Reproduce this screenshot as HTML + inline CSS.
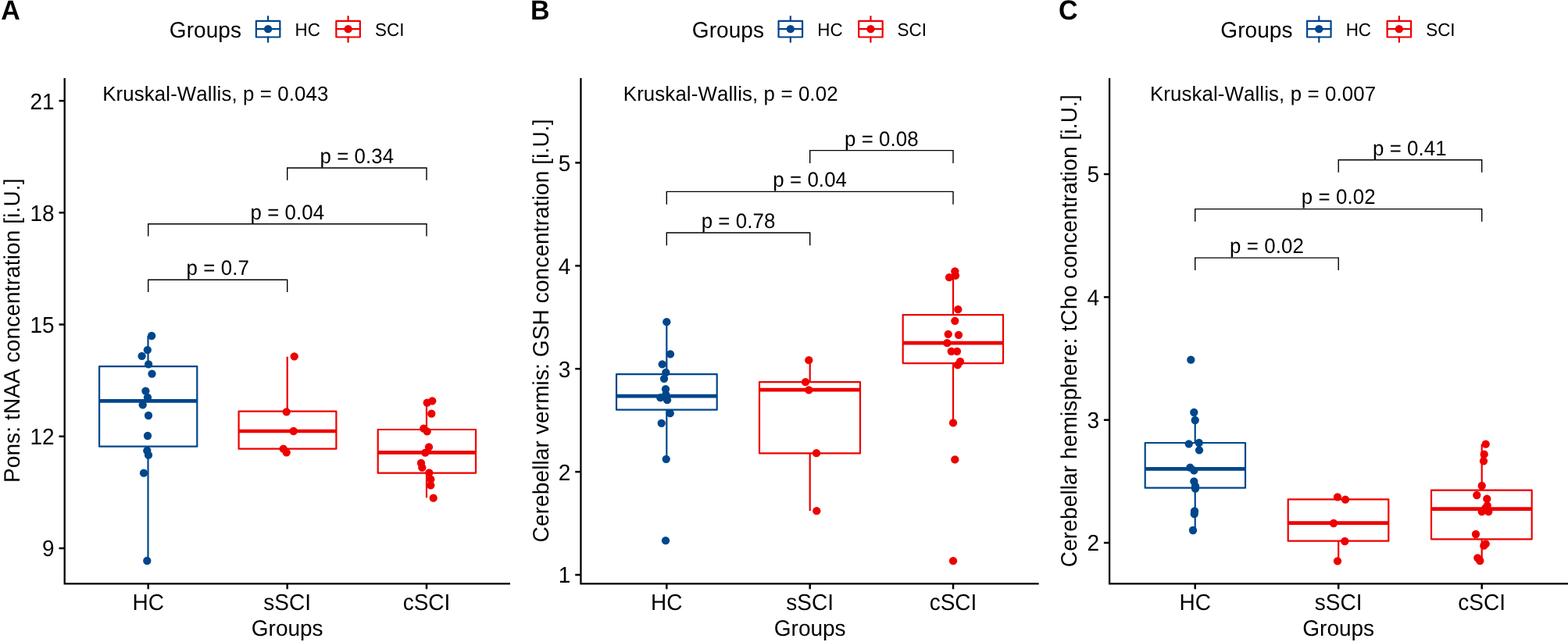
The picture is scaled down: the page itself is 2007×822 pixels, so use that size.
<!DOCTYPE html>
<html lang="en"><head><meta charset="utf-8"><title>Figure: group comparisons</title>
<style>
html,body{margin:0;padding:0;background:#fff;}
body{width:2007px;height:822px;}
svg{display:block;}
text{font-family:"Liberation Sans",sans-serif;fill:#000;font-kerning:none;font-variant-ligatures:none;text-rendering:geometricPrecision;}
.pl{font-weight:bold;font-size:34px;}
.lt{font-size:28px;letter-spacing:0.08px;}
.ll{font-size:22.4px;}
.tk{font-size:28px;}
.at{font-size:28px;}
.st{font-size:25.8px;letter-spacing:0.1px;}
.kw{letter-spacing:0.13px;}
.yt{letter-spacing:0.12px;}
.ax{stroke:#000;stroke-width:2.3;fill:none;stroke-linecap:butt;}
.tk2{stroke:#000;stroke-width:2.5;fill:none;}
.br{stroke:#000;stroke-width:1.4;fill:none;}
.bx{stroke-width:2.2;fill:none;stroke-linejoin:round;}
.md{stroke-width:4.7;fill:none;}
</style></head><body>
<svg width="2007" height="822" viewBox="0 0 2007 822">
<rect x="0" y="0" width="2007" height="822" fill="#ffffff"/>
<g>
<text class="pl" transform="translate(1.2 25) scale(1 1.04)">A</text>
<text class="lt" transform="translate(216.8 47.6) scale(1 1.02)">Groups</text>
<g stroke="#00468B" fill="none" stroke-width="2.2" stroke-linecap="round" stroke-linejoin="round"><line x1="343.1" y1="21" x2="343.1" y2="26.9"/><line x1="343.1" y1="47.5" x2="343.1" y2="53.8"/><rect x="327.85" y="26.9" width="30.5" height="20.6"/><line x1="327.85" y1="37.2" x2="358.35" y2="37.2"/></g><circle cx="343.1" cy="37.2" r="5.15" fill="#00468B"/>
<text class="ll" transform="translate(377.6 45.8) scale(1 1.04)">HC</text>
<g stroke="#ED0000" fill="none" stroke-width="2.2" stroke-linecap="round" stroke-linejoin="round"><line x1="445.6" y1="21" x2="445.6" y2="26.9"/><line x1="445.6" y1="47.5" x2="445.6" y2="53.8"/><rect x="430.35" y="26.9" width="30.5" height="20.6"/><line x1="430.35" y1="37.2" x2="460.85" y2="37.2"/></g><circle cx="445.6" cy="37.2" r="5.15" fill="#ED0000"/>
<text class="ll" transform="translate(480.1 45.8) scale(1 1.04)">SCI</text>
<g stroke="#00468B">
<line class="bx" x1="189.5" y1="430" x2="189.5" y2="469.2"/>
<line class="bx" x1="189.5" y1="571.7" x2="189.5" y2="718"/>
<rect class="bx" x="127.1" y="469.2" width="125.2" height="102.5"/>
<line class="md" x1="127.1" y1="513.3" x2="252.3" y2="513.3"/>
</g>
<g fill="#00468B">
<circle cx="194.1" cy="430" r="5.15"/>
<circle cx="188.8" cy="448.1" r="5.15"/>
<circle cx="181.6" cy="455.9" r="5.15"/>
<circle cx="190.1" cy="466.4" r="5.15"/>
<circle cx="194.5" cy="478.6" r="5.15"/>
<circle cx="186.4" cy="500.6" r="5.15"/>
<circle cx="189" cy="509" r="5.15"/>
<circle cx="182.7" cy="518.3" r="5.15"/>
<circle cx="190" cy="532" r="5.15"/>
<circle cx="189" cy="558" r="5.15"/>
<circle cx="188.3" cy="577" r="5.15"/>
<circle cx="190" cy="582.7" r="5.15"/>
<circle cx="184" cy="605.7" r="5.15"/>
<circle cx="188.3" cy="718" r="5.15"/>
</g>
<g stroke="#ED0000">
<line class="bx" x1="367.7" y1="456.7" x2="367.7" y2="526.7"/>
<line class="bx" x1="367.7" y1="574.7" x2="367.7" y2="574.7"/>
<rect class="bx" x="305.6" y="526.7" width="124.8" height="48"/>
<line class="md" x1="305.6" y1="552" x2="430.4" y2="552"/>
</g>
<g fill="#ED0000">
<circle cx="376.7" cy="456.3" r="5.15"/>
<circle cx="366.7" cy="527.3" r="5.15"/>
<circle cx="375.7" cy="552" r="5.15"/>
<circle cx="362.7" cy="574.7" r="5.15"/>
<circle cx="366.7" cy="579.3" r="5.15"/>
</g>
<g stroke="#ED0000">
<line class="bx" x1="546" y1="515" x2="546" y2="550"/>
<line class="bx" x1="546" y1="605.7" x2="546" y2="637.3"/>
<rect class="bx" x="483.7" y="550" width="125.3" height="55.7"/>
<line class="md" x1="483.7" y1="579.3" x2="609" y2="579.3"/>
</g>
<g fill="#ED0000">
<circle cx="553.3" cy="513.3" r="5.15"/>
<circle cx="546.7" cy="515.7" r="5.15"/>
<circle cx="552.3" cy="529.7" r="5.15"/>
<circle cx="542.3" cy="548.7" r="5.15"/>
<circle cx="546.7" cy="552.3" r="5.15"/>
<circle cx="549" cy="572.3" r="5.15"/>
<circle cx="544.3" cy="579.7" r="5.15"/>
<circle cx="539" cy="593" r="5.15"/>
<circle cx="540.3" cy="598.7" r="5.15"/>
<circle cx="549.3" cy="605.3" r="5.15"/>
<circle cx="551.3" cy="613.7" r="5.15"/>
<circle cx="551.3" cy="621.3" r="5.15"/>
<circle cx="554.7" cy="637.7" r="5.15"/>
</g>
<path class="br" d="M367.7 230.76 V214.96 H546 V230.76"/>
<text class="st" text-anchor="middle" transform="translate(456.85 209.15) scale(1 1.04)">p = 0.34</text>
<path class="br" d="M189.7 302.6 V286.8 H546 V302.6"/>
<text class="st" text-anchor="middle" transform="translate(367.85 280.88) scale(1 1.04)">p = 0.04</text>
<path class="br" d="M189.7 374.05 V358.25 H367.7 V374.05"/>
<text class="st" text-anchor="middle" transform="translate(278.7 352.05) scale(1 1.04)">p = 0.7</text>
<text class="st kw" transform="translate(131.2 129.3) scale(1 1.02)">Kruskal-Wallis, p = 0.043</text>
<path class="ax" d="M82.7 100 V747.3 H653"/>
<line class="tk2" x1="75.5" y1="129.1" x2="82.7" y2="129.1"/>
<text class="tk" text-anchor="end" transform="translate(69.7 139.5) scale(1 1.04)">21</text>
<line class="tk2" x1="75.5" y1="272.3" x2="82.7" y2="272.3"/>
<text class="tk" text-anchor="end" transform="translate(69.7 282.7) scale(1 1.04)">18</text>
<line class="tk2" x1="75.5" y1="415.5" x2="82.7" y2="415.5"/>
<text class="tk" text-anchor="end" transform="translate(69.7 425.9) scale(1 1.04)">15</text>
<line class="tk2" x1="75.5" y1="558.75" x2="82.7" y2="558.75"/>
<text class="tk" text-anchor="end" transform="translate(69.7 569.15) scale(1 1.04)">12</text>
<line class="tk2" x1="75.5" y1="702" x2="82.7" y2="702"/>
<text class="tk" text-anchor="end" transform="translate(69.7 712.4) scale(1 1.04)">9</text>
<line class="tk2" x1="189.7" y1="747.3" x2="189.7" y2="754.3"/>
<text class="tk" text-anchor="middle" transform="translate(189.7 781) scale(1 1.04)">HC</text>
<line class="tk2" x1="367.7" y1="747.3" x2="367.7" y2="754.3"/>
<text class="tk" text-anchor="middle" transform="translate(367.7 781) scale(1 1.04)">sSCI</text>
<line class="tk2" x1="546" y1="747.3" x2="546" y2="754.3"/>
<text class="tk" text-anchor="middle" transform="translate(546 781) scale(1 1.04)">cSCI</text>
<text class="at" text-anchor="middle" transform="translate(367.7 813.9) scale(1 1.02)">Groups</text>
<text class="at yt" text-anchor="middle" transform="translate(25.4 423.25) rotate(-90) scale(1 1.02)">Pons: tNAA concentration [i.U.]</text>
</g>
<g>
<text class="pl" transform="translate(679 25) scale(1 1.04)">B</text>
<text class="lt" transform="translate(885.8 47.6) scale(1 1.02)">Groups</text>
<g stroke="#00468B" fill="none" stroke-width="2.2" stroke-linecap="round" stroke-linejoin="round"><line x1="1011.8" y1="21" x2="1011.8" y2="26.9"/><line x1="1011.8" y1="47.5" x2="1011.8" y2="53.8"/><rect x="996.55" y="26.9" width="30.5" height="20.6"/><line x1="996.55" y1="37.2" x2="1027.05" y2="37.2"/></g><circle cx="1011.8" cy="37.2" r="5.15" fill="#00468B"/>
<text class="ll" transform="translate(1046.3 45.8) scale(1 1.04)">HC</text>
<g stroke="#ED0000" fill="none" stroke-width="2.2" stroke-linecap="round" stroke-linejoin="round"><line x1="1114.45" y1="21" x2="1114.45" y2="26.9"/><line x1="1114.45" y1="47.5" x2="1114.45" y2="53.8"/><rect x="1099.2" y="26.9" width="30.5" height="20.6"/><line x1="1099.2" y1="37.2" x2="1129.7" y2="37.2"/></g><circle cx="1114.45" cy="37.2" r="5.15" fill="#ED0000"/>
<text class="ll" transform="translate(1148.6 45.8) scale(1 1.04)">SCI</text>
<g stroke="#00468B">
<line class="bx" x1="853.3" y1="412.4" x2="853.3" y2="479.1"/>
<line class="bx" x1="853.3" y1="524.7" x2="853.3" y2="588.1"/>
<rect class="bx" x="789" y="479.1" width="128.7" height="45.6"/>
<line class="md" x1="789" y1="507.1" x2="917.7" y2="507.1"/>
</g>
<g fill="#00468B">
<circle cx="853.3" cy="412.15" r="5.15"/>
<circle cx="858" cy="453.45" r="5.15"/>
<circle cx="847.7" cy="466.45" r="5.15"/>
<circle cx="852.3" cy="476.85" r="5.15"/>
<circle cx="850" cy="484.85" r="5.15"/>
<circle cx="852" cy="498.15" r="5.15"/>
<circle cx="852.3" cy="505.15" r="5.15"/>
<circle cx="845.3" cy="509.15" r="5.15"/>
<circle cx="854" cy="512.15" r="5.15"/>
<circle cx="857.7" cy="529.15" r="5.15"/>
<circle cx="846.7" cy="541.85" r="5.15"/>
<circle cx="852.7" cy="587.85" r="5.15"/>
<circle cx="852" cy="692.15" r="5.15"/>
</g>
<g stroke="#ED0000">
<line class="bx" x1="1036.7" y1="461.7" x2="1036.7" y2="489.1"/>
<line class="bx" x1="1036.7" y1="580.4" x2="1036.7" y2="654.1"/>
<rect class="bx" x="972" y="489.1" width="129" height="91.3"/>
<line class="md" x1="972" y1="499.1" x2="1101" y2="499.1"/>
</g>
<g fill="#ED0000">
<circle cx="1035.3" cy="461.15" r="5.15"/>
<circle cx="1031" cy="489.15" r="5.15"/>
<circle cx="1035.3" cy="499.45" r="5.15"/>
<circle cx="1045" cy="580.15" r="5.15"/>
<circle cx="1045.3" cy="654.15" r="5.15"/>
</g>
<g stroke="#ED0000">
<line class="bx" x1="1220" y1="347.7" x2="1220" y2="403.1"/>
<line class="bx" x1="1220" y1="465.1" x2="1220" y2="542.1"/>
<rect class="bx" x="1155.7" y="403.1" width="128.3" height="62"/>
<line class="md" x1="1155.7" y1="439.1" x2="1284" y2="439.1"/>
</g>
<g fill="#ED0000">
<circle cx="1222.3" cy="347.45" r="5.15"/>
<circle cx="1223" cy="352.85" r="5.15"/>
<circle cx="1215" cy="355.15" r="5.15"/>
<circle cx="1226.3" cy="396.15" r="5.15"/>
<circle cx="1222.3" cy="410.85" r="5.15"/>
<circle cx="1213.7" cy="427.85" r="5.15"/>
<circle cx="1227" cy="428.85" r="5.15"/>
<circle cx="1212.3" cy="439.15" r="5.15"/>
<circle cx="1217.7" cy="449.85" r="5.15"/>
<circle cx="1225" cy="449.85" r="5.15"/>
<circle cx="1229" cy="462.85" r="5.15"/>
<circle cx="1225.7" cy="467.45" r="5.15"/>
<circle cx="1220" cy="541.45" r="5.15"/>
<circle cx="1222.3" cy="588.45" r="5.15"/>
<circle cx="1220" cy="718.15" r="5.15"/>
</g>
<path class="br" d="M1036.7 209.03 V192.63 H1220 V209.03"/>
<text class="st" text-anchor="middle" transform="translate(1128.35 186.5) scale(1 1.04)">p = 0.08</text>
<path class="br" d="M853.3 261.81 V245.41 H1220 V261.81"/>
<text class="st" text-anchor="middle" transform="translate(1036.65 239.33) scale(1 1.04)">p = 0.04</text>
<path class="br" d="M853.3 314.37 V297.97 H1036.7 V314.37"/>
<text class="st" text-anchor="middle" transform="translate(945 292.05) scale(1 1.04)">p = 0.78</text>
<text class="st kw" transform="translate(797.8 129.3) scale(1 1.02)">Kruskal-Wallis, p = 0.02</text>
<path class="ax" d="M743.45 100 V747.3 H1329.7"/>
<line class="tk2" x1="736.25" y1="208.4" x2="743.45" y2="208.4"/>
<text class="tk" text-anchor="end" transform="translate(730.45 218.8) scale(1 1.04)">5</text>
<line class="tk2" x1="736.25" y1="340.3" x2="743.45" y2="340.3"/>
<text class="tk" text-anchor="end" transform="translate(730.45 350.7) scale(1 1.04)">4</text>
<line class="tk2" x1="736.25" y1="472.2" x2="743.45" y2="472.2"/>
<text class="tk" text-anchor="end" transform="translate(730.45 482.6) scale(1 1.04)">3</text>
<line class="tk2" x1="736.25" y1="604.1" x2="743.45" y2="604.1"/>
<text class="tk" text-anchor="end" transform="translate(730.45 614.5) scale(1 1.04)">2</text>
<line class="tk2" x1="736.25" y1="736" x2="743.45" y2="736"/>
<text class="tk" text-anchor="end" transform="translate(730.45 746.4) scale(1 1.04)">1</text>
<line class="tk2" x1="853.3" y1="747.3" x2="853.3" y2="754.3"/>
<text class="tk" text-anchor="middle" transform="translate(853.3 781) scale(1 1.04)">HC</text>
<line class="tk2" x1="1036.7" y1="747.3" x2="1036.7" y2="754.3"/>
<text class="tk" text-anchor="middle" transform="translate(1036.7 781) scale(1 1.04)">sSCI</text>
<line class="tk2" x1="1220" y1="747.3" x2="1220" y2="754.3"/>
<text class="tk" text-anchor="middle" transform="translate(1220 781) scale(1 1.04)">cSCI</text>
<text class="at" text-anchor="middle" transform="translate(1036.7 813.9) scale(1 1.02)">Groups</text>
<text class="at yt" text-anchor="middle" transform="translate(701.7 423.4) rotate(-90) scale(1 1.02)">Cerebellar vermis: GSH concentration [i.U.]</text>
</g>
<g>
<text class="pl" transform="translate(1355.1 25) scale(1 1.04)">C</text>
<text class="lt" transform="translate(1562.3 47.6) scale(1 1.02)">Groups</text>
<g stroke="#00468B" fill="none" stroke-width="2.2" stroke-linecap="round" stroke-linejoin="round"><line x1="1688.3" y1="21" x2="1688.3" y2="26.9"/><line x1="1688.3" y1="47.5" x2="1688.3" y2="53.8"/><rect x="1673.05" y="26.9" width="30.5" height="20.6"/><line x1="1673.05" y1="37.2" x2="1703.55" y2="37.2"/></g><circle cx="1688.3" cy="37.2" r="5.15" fill="#00468B"/>
<text class="ll" transform="translate(1722.7 45.8) scale(1 1.04)">HC</text>
<g stroke="#ED0000" fill="none" stroke-width="2.2" stroke-linecap="round" stroke-linejoin="round"><line x1="1790.85" y1="21" x2="1790.85" y2="26.9"/><line x1="1790.85" y1="47.5" x2="1790.85" y2="53.8"/><rect x="1775.6" y="26.9" width="30.5" height="20.6"/><line x1="1775.6" y1="37.2" x2="1806.1" y2="37.2"/></g><circle cx="1790.85" cy="37.2" r="5.15" fill="#ED0000"/>
<text class="ll" transform="translate(1825.2 45.8) scale(1 1.04)">SCI</text>
<g stroke="#00468B">
<line class="bx" x1="1529.7" y1="528" x2="1529.7" y2="567"/>
<line class="bx" x1="1529.7" y1="624.7" x2="1529.7" y2="679"/>
<rect class="bx" x="1465.7" y="567" width="128.3" height="57.7"/>
<line class="md" x1="1465.7" y1="600.3" x2="1594" y2="600.3"/>
</g>
<g fill="#00468B">
<circle cx="1524.3" cy="460.7" r="5.15"/>
<circle cx="1528.3" cy="528" r="5.15"/>
<circle cx="1529.7" cy="538" r="5.15"/>
<circle cx="1521.7" cy="568.3" r="5.15"/>
<circle cx="1534.7" cy="567" r="5.15"/>
<circle cx="1535" cy="576.3" r="5.15"/>
<circle cx="1523.3" cy="598.7" r="5.15"/>
<circle cx="1528.3" cy="602.3" r="5.15"/>
<circle cx="1528.3" cy="616.3" r="5.15"/>
<circle cx="1530" cy="622.3" r="5.15"/>
<circle cx="1530" cy="625.7" r="5.15"/>
<circle cx="1529" cy="654.3" r="5.15"/>
<circle cx="1528.7" cy="658" r="5.15"/>
<circle cx="1527" cy="679" r="5.15"/>
</g>
<g stroke="#ED0000">
<line class="bx" x1="1713.2" y1="636.3" x2="1713.2" y2="639.3"/>
<line class="bx" x1="1713.2" y1="692.7" x2="1713.2" y2="718"/>
<rect class="bx" x="1648.7" y="639.3" width="128.6" height="53.4"/>
<line class="md" x1="1648.7" y1="669.7" x2="1777.3" y2="669.7"/>
</g>
<g fill="#ED0000">
<circle cx="1712" cy="636.3" r="5.15"/>
<circle cx="1722" cy="639.7" r="5.15"/>
<circle cx="1707" cy="670" r="5.15"/>
<circle cx="1721.3" cy="693" r="5.15"/>
<circle cx="1712" cy="718.3" r="5.15"/>
</g>
<g stroke="#ED0000">
<line class="bx" x1="1896.7" y1="568.7" x2="1896.7" y2="627.7"/>
<line class="bx" x1="1896.7" y1="690.3" x2="1896.7" y2="718"/>
<rect class="bx" x="1832" y="627.7" width="128.7" height="62.6"/>
<line class="md" x1="1832" y1="651.7" x2="1960.7" y2="651.7"/>
</g>
<g fill="#ED0000">
<circle cx="1901.7" cy="568.7" r="5.15"/>
<circle cx="1899.7" cy="581.7" r="5.15"/>
<circle cx="1899" cy="590.3" r="5.15"/>
<circle cx="1896.7" cy="622" r="5.15"/>
<circle cx="1890.3" cy="634" r="5.15"/>
<circle cx="1903.3" cy="638.7" r="5.15"/>
<circle cx="1903.7" cy="647.3" r="5.15"/>
<circle cx="1901.3" cy="650.7" r="5.15"/>
<circle cx="1896.7" cy="655" r="5.15"/>
<circle cx="1905.3" cy="655" r="5.15"/>
<circle cx="1889" cy="684" r="5.15"/>
<circle cx="1901.7" cy="696.3" r="5.15"/>
<circle cx="1899.3" cy="698.7" r="5.15"/>
<circle cx="1891.3" cy="714.3" r="5.15"/>
<circle cx="1894.3" cy="718" r="5.15"/>
</g>
<path class="br" d="M1713.2 220.79 V204.79 H1896.7 V220.79"/>
<text class="st" text-anchor="middle" transform="translate(1804.3 198.6) scale(1 1.04)">p = 0.41</text>
<path class="br" d="M1529.7 283.63 V267.63 H1896.7 V283.63"/>
<text class="st" text-anchor="middle" transform="translate(1713.2 261.44) scale(1 1.04)">p = 0.02</text>
<path class="br" d="M1529.7 346.08 V330.08 H1713.2 V346.08"/>
<text class="st" text-anchor="middle" transform="translate(1621.45 323.95) scale(1 1.04)">p = 0.02</text>
<text class="st kw" transform="translate(1471.9 129.3) scale(1 1.02)">Kruskal-Wallis, p = 0.007</text>
<path class="ax" d="M1420.1 100 V747.3 H2008"/>
<line class="tk2" x1="1412.9" y1="223" x2="1420.1" y2="223"/>
<text class="tk" text-anchor="end" transform="translate(1407.1 233.4) scale(1 1.04)">5</text>
<line class="tk2" x1="1412.9" y1="380.4" x2="1420.1" y2="380.4"/>
<text class="tk" text-anchor="end" transform="translate(1407.1 390.8) scale(1 1.04)">4</text>
<line class="tk2" x1="1412.9" y1="537.7" x2="1420.1" y2="537.7"/>
<text class="tk" text-anchor="end" transform="translate(1407.1 548.1) scale(1 1.04)">3</text>
<line class="tk2" x1="1412.9" y1="695" x2="1420.1" y2="695"/>
<text class="tk" text-anchor="end" transform="translate(1407.1 705.4) scale(1 1.04)">2</text>
<line class="tk2" x1="1529.7" y1="747.3" x2="1529.7" y2="754.3"/>
<text class="tk" text-anchor="middle" transform="translate(1529.7 781) scale(1 1.04)">HC</text>
<line class="tk2" x1="1713.2" y1="747.3" x2="1713.2" y2="754.3"/>
<text class="tk" text-anchor="middle" transform="translate(1713.2 781) scale(1 1.04)">sSCI</text>
<line class="tk2" x1="1896.7" y1="747.3" x2="1896.7" y2="754.3"/>
<text class="tk" text-anchor="middle" transform="translate(1896.7 781) scale(1 1.04)">cSCI</text>
<text class="at" text-anchor="middle" transform="translate(1713.2 813.9) scale(1 1.02)">Groups</text>
<text class="at yt" text-anchor="middle" transform="translate(1378.4 423.7) rotate(-90) scale(1 1.02)">Cerebellar hemisphere: tCho concentration [i.U.]</text>
</g>
</svg>
</body></html>
